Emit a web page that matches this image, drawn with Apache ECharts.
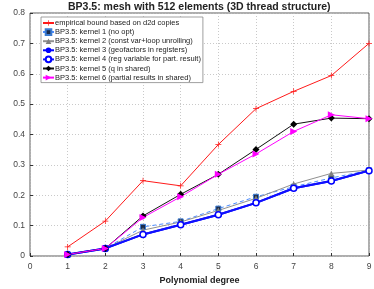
<!DOCTYPE html>
<html><head><meta charset="utf-8">
<script src="https://cdn.jsdelivr.net/npm/echarts@6/dist/echarts.min.js"></script>
<style>html,body{margin:0;padding:0;background:#fff}#c{width:374px;height:289px}</style>
</head><body><div id="c"></div>
<script>
const degrees = [1,2,3,4,5,6,7,8,9];
const xTicks = [0,1,2,3,4,5,6,7,8,9];
const yTicks = [0,0.1,0.2,0.3,0.4,0.5,0.6,0.7,0.8];
const names = [
  'empirical bound based on d2d copies',
  'BP3.5: kernel 1 (no opt)',
  'BP3.5: kernel 2 (const var+loop unrolling)',
  'BP3.5: kernel 3 (geofactors in registers)',
  'BP3.5: kernel 4 (reg variable for part. result)',
  'BP3.5: kernel 5 (q in shared)',
  'BP3.5: kernel 6 (partial results in shared)'
];
const bound   = [0.030,0.115,0.248,0.231,0.367,0.485,0.542,0.594,0.700];
const kernel1 = [0.005,0.025,0.096,0.114,0.156,0.195,0.228,0.257,0.282];
const kernel2 = [0.005,0.025,0.085,0.112,0.150,0.190,0.237,0.272,0.283];
const kernel3 = [0.005,0.025,0.071,0.103,0.136,0.175,0.223,0.247,0.281];
const kernel4 = [0.005,0.025,0.071,0.103,0.136,0.175,0.223,0.247,0.281];
const kernel5 = [0.005,0.025,0.132,0.203,0.269,0.351,0.434,0.454,0.452];
const kernel6 = [0.005,0.025,0.127,0.195,0.269,0.336,0.410,0.465,0.452];

const pair = arr => degrees.map((d,i)=>[d,arr[i]]);
const plus = 'path://M0,4.4H10V5.6H0Z M4.4,0H5.6V10H4.4Z';
const font = 'Liberation Sans, Arial, sans-serif';

const chart = echarts.init(document.getElementById('c'), null, {renderer:'canvas'});
const series = [
  {name:names[0], data:pair(bound), color:'#ff1a1a', lineStyle:{width:1,color:'#ff1a1a'}, symbol:plus, symbolSize:6, itemStyle:{color:'#ff1a1a'}},
  {name:names[1], data:pair(kernel1), color:'#4d8dff', lineStyle:{width:1,type:[4,3],color:'#4d8dff'}, symbol:'rect', symbolSize:5, itemStyle:{color:'#1a2a4a',borderColor:'#3a7ad0',borderWidth:1}},
  {name:names[2], data:pair(kernel2), color:'#888888', lineStyle:{width:1,color:'#909090'}, symbol:'triangle', symbolSize:6, itemStyle:{color:'#808080'}},
  {name:names[3], data:pair(kernel3), color:'#0000ff', lineStyle:{width:2,color:'#0000ff'}, symbol:'circle', symbolSize:6, itemStyle:{color:'#0000ff'}},
  {name:names[4], data:pair(kernel4), color:'#0000ff', lineStyle:{width:2,color:'#1010ff'}, symbol:'circle', symbolSize:6, itemStyle:{color:'#ffffff',borderColor:'#0000ff',borderWidth:1.5}},
  {name:names[5], data:pair(kernel5), color:'#000000', lineStyle:{width:1,color:'#111111'}, symbol:'diamond', symbolSize:7, itemStyle:{color:'#000000'}},
  {name:names[6], data:pair(kernel6), color:'#ff00ff', lineStyle:{width:1,color:'#ff00ff'}, symbol:'triangle', symbolRotate:-90, symbolSize:7, itemStyle:{color:'#ff00ff'}}
].map(s=>Object.assign({type:'line', showSymbol:true, animation:false, z: 2}, s));
chart.setOption({
  animation:false,
  title:{text:'BP3.5: mesh with 512 elements (3D thread structure)', left:68, top:0, padding:[2,0,0,0],
    textStyle:{fontFamily:font, fontSize:10.5, fontWeight:'bold', color:'#222'}},
  grid:{left:30, right:5, top:13, bottom:33, show:true, borderColor:'#333', borderWidth:0.8, backgroundColor:'#fff',
    containLabel:false, outerBoundsMode:'none'},
  legend:{orient:'vertical', left:41, top:17, itemWidth:11, itemHeight:7, itemGap:1.1,
    backgroundColor:'#fff', borderColor:'#888', borderWidth:0.8, padding:[2,2,1,1],
    textStyle:{fontFamily:font, fontSize:7.5, color:'#222', padding:[0,0,0,-4]}, data:names},
  xAxis:{type:'value', min:0, max:9, interval:1,
    name:'Polynomial degree', nameLocation:'middle', nameGap:20,
    nameTextStyle:{fontFamily:font, fontSize:9, fontWeight:'bold', color:'#222'},
    axisLine:{show:false}, axisTick:{inside:true, length:3, lineStyle:{color:'#333'}},
    axisLabel:{fontFamily:font, fontSize:8.5, color:'#444', margin:6, formatter:v=>xTicks.includes(v)?String(v):''},
    splitLine:{show:true, lineStyle:{type:[1,2], color:'#bbb', width:0.8}}},
  yAxis:{type:'value', min:0, max:0.8, interval:0.1,
    name:'TFLOPS/s', nameLocation:'middle', nameGap:23,
    nameTextStyle:{fontFamily:font, fontSize:9, fontWeight:'bold', color:'#222'},
    axisLine:{show:false}, axisTick:{show:true, inside:true, length:3, lineStyle:{color:'#333'}},
    axisLabel:{fontFamily:font, fontSize:8.5, color:'#444', margin:5,
      formatter:v=>{const t=yTicks.find(y=>Math.abs(y-v)<1e-9); return t===undefined?'':(t===0?'0':String(t));}},
    splitLine:{show:true, lineStyle:{type:[1,2], color:'#bbb', width:0.8}}},
  series: series
});
</script></body></html>
